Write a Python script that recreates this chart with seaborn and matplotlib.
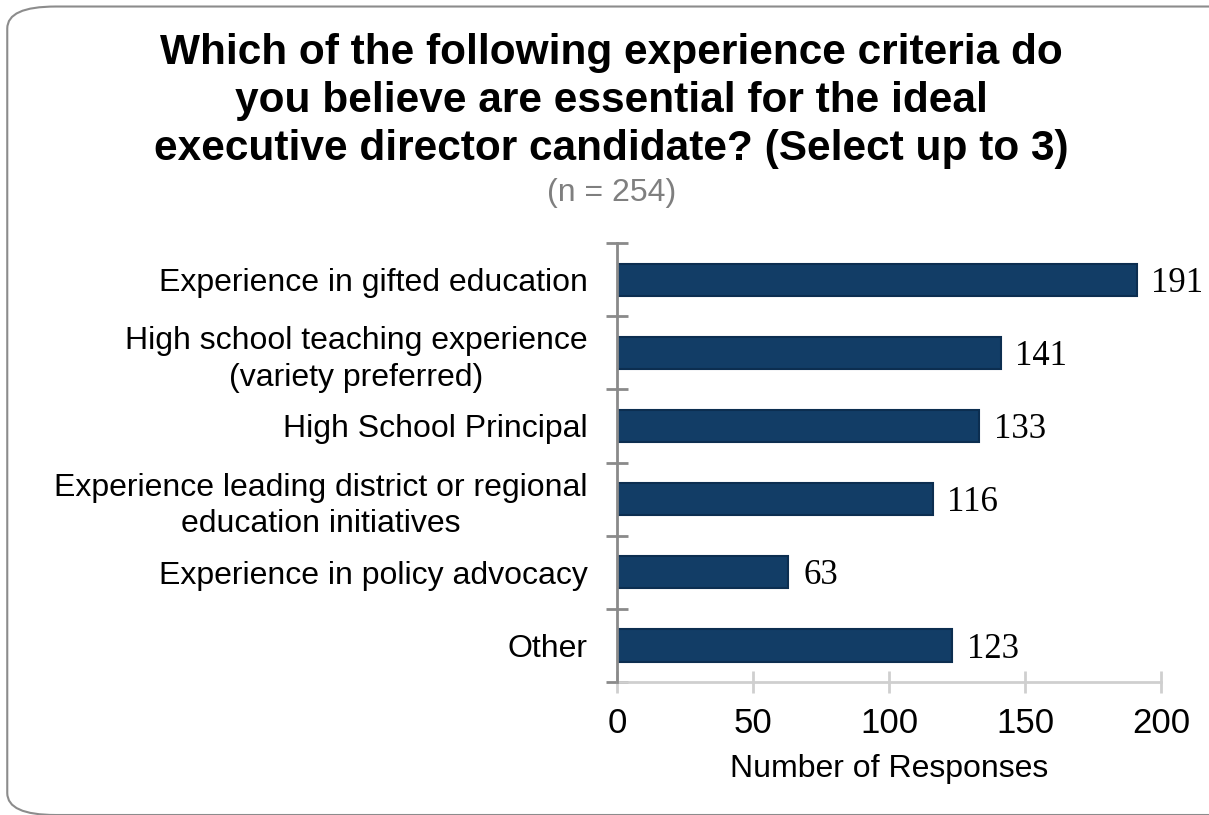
import matplotlib
matplotlib.use("Agg")
import matplotlib.pyplot as plt
from matplotlib.patches import FancyBboxPatch
import seaborn as sns
import pandas as pd
import numpy as np

categories = [
    "Experience in gifted education",
    "High school teaching experience\n(variety preferred)",
    "High School Principal",
    "Experience leading district or regional\neducation initiatives",
    "Experience in policy advocacy",
    "Other",
]
responses = [191, 141, 133, 116, 63, 123]
x_ticks = [0, 50, 100, 150, 200]

title = ("Which of the following experience criteria do\n"
         "you believe are essential for the ideal\n"
         "executive director candidate? (Select up to 3)")
subtitle = "(n = 254)"
x_label = "Number of Responses"

sns.set_theme(style="white")
plt.rcParams["font.family"] = ["Liberation Sans", "DejaVu Sans"]
plt.rcParams["text.color"] = "black"
plt.rcParams["xtick.labelcolor"] = "black"
plt.rcParams["ytick.labelcolor"] = "black"
plt.rcParams["axes.labelcolor"] = "black"

df = pd.DataFrame({"category": categories, "responses": responses})

fig = plt.figure(figsize=(12.09, 8.15), dpi=100)

# rounded frame around the whole chart
frame = FancyBboxPatch((0.006, 0.0), 1.05, 0.992,
                       boxstyle="round,pad=0,rounding_size=0.04",
                       transform=fig.transFigure, facecolor="none",
                       edgecolor="#8c8c8c", linewidth=1.5, zorder=-5,
                       mutation_aspect=815 / 1209)
fig.patches.append(frame)

ax = fig.add_axes([0.5103, 0.1632, 0.4500, 0.5386])
ax.set_facecolor("none")
ax.set_zorder(2)

sns.barplot(data=df, x="responses", y="category", orient="h",
            color="#123d66", edgecolor="#0c2e50", linewidth=1.5,
            width=0.44, saturation=1, ax=ax)

ax.set_xlim(0, 200)
ax.set_ylim(len(categories) - 0.5, -0.5)
ax.set_xticks(x_ticks)
ax.set_xticklabels([str(t) for t in x_ticks], fontsize=25, color="black")
ax.set_xlabel(x_label, fontsize=23, labelpad=10, color="black")
ax.set_ylabel("")
ax.set_yticks(range(len(categories)))
ax.set_yticklabels(categories, fontsize=23, multialignment="center",
                   color="black", linespacing=1.3)
ax.set_yticks(np.arange(-0.5, len(categories)), minor=True)

ax.tick_params(axis="y", which="major", length=0, pad=21)
ax.tick_params(axis="y", which="minor", direction="inout", length=16,
               width=2, color="#8a8a8a", left=True)
ax.tick_params(axis="x", which="major", direction="inout", length=16,
               width=2, color="#cfcfcf", pad=10, bottom=True)

for side in ["top", "right"]:
    ax.spines[side].set_visible(False)
ax.spines["bottom"].set_color("#cfcfcf")
ax.spines["bottom"].set_linewidth(2)
ax.spines["left"].set_color("#8a8a8a")
ax.spines["left"].set_linewidth(2)
ax.spines["left"].set_zorder(5)

for i, v in enumerate(responses):
    ax.text(v + 5.5, i + 0.05, str(v), va="center", ha="left",
            fontsize=25, family=["Liberation Serif", "DejaVu Serif"],
            color="black")

fig.text(0.506, 0.876, title, ha="center", va="center", fontsize=30.5,
         fontweight="bold", linespacing=1.27, color="black")
fig.text(0.506, 0.763, subtitle, ha="center", va="center", fontsize=23,
         color="#7f7f7f")

fig.savefig("out.png", dpi=100)
